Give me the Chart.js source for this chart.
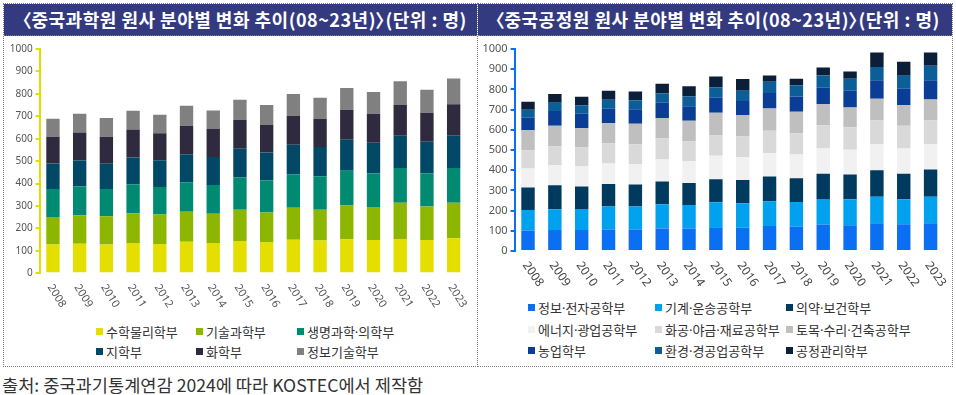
<!DOCTYPE html>
<html>
<head>
<meta charset="utf-8">
<script src="https://cdn.jsdelivr.net/npm/chart.js@4.4.1/dist/chart.umd.min.js"></script>
<style>
  html,body{margin:0;padding:0;background:#fff;}
  body{width:956px;height:395px;position:relative;overflow:hidden;font-family:"Noto Sans CJK KR","Noto Sans",sans-serif;}
  .panel{position:absolute;top:3px;height:364px;border:1px dotted #7a7a7a;box-sizing:border-box;}
  .banner{position:absolute;left:0;right:0;top:0;height:31px;background:#343a7f;color:#fff;font-weight:bold;font-size:18px;line-height:31px;white-space:nowrap;border-bottom:1px dotted #7a7a7a;font-feature-settings:"palt";letter-spacing:0.5px;}
  .cv{position:absolute;top:37px;}
  .legend{position:absolute;font-size:13px;color:#333;}
  .li{position:absolute;white-space:nowrap;line-height:16px;}
  .li i{display:inline-block;width:7px;height:7px;margin-right:3px;vertical-align:2px;}
  .dot{font-family:"Noto Sans","DejaVu Sans",sans-serif;}
  .footer{position:absolute;left:2px;top:372px;font-size:17.6px;color:#333;white-space:nowrap;}
</style>
</head>
<body>
<div class="panel" id="pL" style="left:3px;width:475px;">
  <div class="banner"><span id="tL" style="position:absolute;left:18px;"></span></div>
</div>
<div class="panel" id="pR" style="left:477px;width:476px;">
  <div class="banner"><span id="tR" style="position:absolute;left:17px;"></span></div>
</div>
<canvas id="cL" class="cv" style="left:0px;" width="478" height="283"></canvas>
<canvas id="cR" class="cv" style="left:478px;" width="478" height="260"></canvas>
<div class="legend" id="lgL"></div>
<div class="legend" id="lgR"></div>
<div class="footer" id="foot"></div>
<script>
// ---- data ----
const years = ['2008','2009','2010','2011','2012','2013','2014','2015','2016','2017','2018','2019','2020','2021','2022','2023'];
const yTicks = [0,100,200,300,400,500,600,700,800,900,1000];

const titleLeft = '〈중국과학원 원사 분야별 변화 추이(08~23년)〉(단위 : 명)';
const titleRight = '〈중국공정원 원사 분야별 변화 추이(08~23년)〉(단위 : 명)';
const footerText = '출처: 중국과기통계연감 2024에 따라 KOSTEC에서 제작함';

// 중국과학원
const casNames = ['수학물리학부','기술과학부','생명과학·의학부','지학부','화학부','정보기술학부'];
const casMath  = [128,132,128,135,131,141,135,144,140,150,146,152,149,153,149,156];
const casTech  = [123,127,126,133,131,133,130,139,131,142,137,150,147,161,149,159];
const casLife  = [125,128,122,128,123,132,129,144,143,150,150,155,149,156,148,155];
const casEarth = [114,116,112,120,119,125,124,128,125,131,130,138,137,143,140,145];
const casChem  = [119,125,121,125,120,127,125,130,122,129,125,134,129,137,130,139];
const casInfo  = [ 80, 83, 83, 84, 83, 89, 83, 89, 89, 97, 95, 97, 97,106,102,114];
const casColors = ['#e4df00','#8db600','#008a72','#004866','#302a3e','#808080'];

// 중국공정원
const caeNames = ['정보·전자공학부','기계·운송공학부','의약·보건학부','에너지·광업공학부','화공·야금·재료공학부','토목·수리·건축공학부','농업학부','환경·경공업공학부','공정관리학부'];
const caeElec   = [101,104,104,107,107,112,112,117,116,124,121,131,127,137,132,137];
const caeMech   = [102,103,104,113,113,119,116,124,120,122,122,127,129,131,124,131];
const caeMed    = [111,119,111,112,109,113,109,114,116,123,117,124,123,132,126,135];
const caeEnergy = [ 94, 99, 99,101,102,109,108,116,112,115,118,125,122,129,125,126];
const caeChem   = [ 91, 92, 94, 99, 98,104, 97,101,103,111,105,116,112,117,113,117];
const caeCivil  = [ 99,103, 96,101,101,101,103,112,106,111,106,103, 98,108,101,104];
const caeAgri   = [ 62, 73, 71, 71, 72, 76, 72, 75, 69, 76, 76, 82, 82, 91, 82, 95];
const caeEnv    = [ 39, 41, 42, 45, 43, 46, 48, 51, 51, 56, 56, 61, 60, 66, 65, 72];
const caeMgmt   = [ 40, 43, 43, 44, 45, 48, 50, 54, 58, 31, 32, 40, 36, 72, 69, 66];
const caeColors = ['#0a6ff2','#00a1ee','#003a5e','#f1f1f1','#d9d9d9','#bfbfbf','#0a3e96','#0b5e98','#0b1f38'];

const casSeries = [casMath,casTech,casLife,casEarth,casChem,casInfo];
const caeSeries = [caeElec,caeMech,caeMed,caeEnergy,caeChem,caeCivil,caeAgri,caeEnv,caeMgmt];

document.getElementById('tL').textContent = titleLeft;
document.getElementById('tR').textContent = titleRight;
document.getElementById('foot').textContent = footerText;

function rotLabels(opts){
  return {
    id:'rotLabels',
    afterDraw(chart){
      const ctx = chart.ctx, xs = chart.scales.x, area = chart.chartArea;
      ctx.save();
      ctx.fillStyle = opts.color;
      ctx.font = opts.font;
      ctx.textAlign = 'left';
      ctx.textBaseline = 'middle';
      xs.ticks.forEach((t,i)=>{
        const x = xs.getPixelForTick(i);
        ctx.save();
        ctx.translate(x + opts.dx, area.bottom + opts.dy);
        ctx.rotate(opts.angle*Math.PI/180);
        ctx.fillText(chart.data.labels[i], 0, 0);
        ctx.restore();
      });
      ctx.restore();
    }
  };
}

function makeChart(id, series, names, colors, axisColor, pad, xH, yW, lblOpts, tickFont){
  const datasets = series.map((d,i)=>({label:names[i], data:d, backgroundColor:colors[i], borderWidth:0, barPercentage:0.5, categoryPercentage:1.0}));
  return new Chart(document.getElementById(id), {
    type:'bar',
    data:{labels:years, datasets},
    options:{
      responsive:false, animation:false,
      layout:{padding:pad},
      plugins:{legend:{display:false}, tooltip:{enabled:false}},
      scales:{
        x:{stacked:true, grid:{display:false}, border:{display:false}, ticks:{display:false},
           afterFit(s){ s.height = xH; }},
        y:{stacked:true, min:0, max:1000,
           afterBuildTicks(s){ s.ticks = yTicks.map(v=>({value:v})); },
           afterFit(s){ s.width = yW; },
           grid:{drawOnChartArea:false, drawTicks:true, tickLength:4, color:axisColor, lineWidth:2},
           border:{display:true, color:axisColor, width:2},
           ticks:{color:'#555', font:tickFont, padding:3, callback:(v)=>String(v)}}
      }
    },
    plugins:[rotLabels(lblOpts)]
  });
}

makeChart('cL', casSeries, casNames, casColors, '#e2dd00', {top:12,right:11,left:0,bottom:0}, 46.7, 39.6,
  {color:'#555', font:'11px "Noto Sans", "DejaVu Sans", sans-serif', angle:58, dx:-3, dy:12},
  {family:'"Noto Sans", "DejaVu Sans", sans-serif', size:10});
makeChart('cR', caeSeries, caeNames, caeColors, '#0a6ff2', {top:12,right:12,left:0,bottom:0}, 46, 36.6,
  {color:'#444', font:'12px "Noto Sans", "DejaVu Sans", sans-serif', angle:55, dx:-3, dy:12},
  {family:'"Noto Sans", "DejaVu Sans", sans-serif', size:11});

function buildLegend(id, names, colors, left, top, cols, colX, rowH){
  const el = document.getElementById(id);
  el.style.left = left+'px'; el.style.top = top+'px';
  names.forEach((n,i)=>{
    const d = document.createElement('div');
    d.className = 'li';
    d.style.left = colX[i%cols]+'px';
    d.style.top = (Math.floor(i/cols)*rowH)+'px';
    const b = document.createElement('i'); b.style.background = colors[i];
    d.appendChild(b);
    n.split('·').forEach((part,k)=>{
      if(k>0){ const s=document.createElement('span'); s.className='dot'; s.textContent='·'; d.appendChild(s); }
      d.appendChild(document.createTextNode(part));
    });
    el.appendChild(d);
  });
}
buildLegend('lgL', casNames, casColors, 96, 324, 3, [0,100,201], 20);
buildLegend('lgR', caeNames, caeColors, 528, 300, 3, [0,127,258], 21.5);
</script>
</body>
</html>
